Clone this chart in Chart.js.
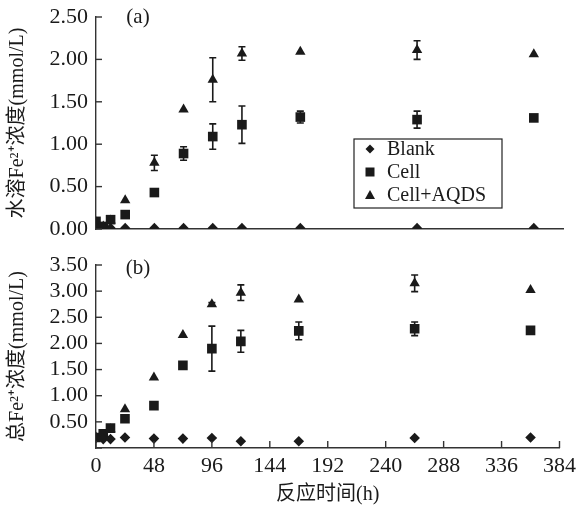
<!DOCTYPE html>
<html><head><meta charset="utf-8">
<script src="https://cdn.jsdelivr.net/npm/chart.js@4.4.1/dist/chart.umd.min.js"></script>
<style>
body{margin:0;background:#fff;width:581px;height:507px;overflow:hidden;position:relative}
.box{position:absolute;left:0;width:581px}
#b1{top:0;height:250px}
#b2{top:250px;height:257px}
</style></head><body>
<div class="box" id="b1"><canvas id="c1"></canvas></div>
<div class="box" id="b2"><canvas id="c2"></canvas></div>
<script>
// ---- data ----
const hours = [0, 6, 12, 24, 48, 72, 96, 120, 168, 264, 360];
const seriesNames = ['Blank', 'Cell', 'Cell+AQDS'];
const xTickLabels = [0, 48, 96, 144, 192, 240, 288, 336, 384];
// (a) dissolved Fe2+
const solBlank = [0.01, 0.01, 0.01, 0.01, 0.01, 0.01, 0.01, 0.01, 0.01, 0.01, 0.01];
const solCell  = [0.09, 0.03, 0.11, 0.17, 0.43, 0.89, 1.09, 1.23, 1.32, 1.29, 1.31];
const solAqds  = [0.08, 0.03, 0.10, 0.34, 0.78, 1.41, 1.76, 2.07, 2.09, 2.11, 2.06];
const solCellErr = [0, 0, 0, 0, 0, 0.08, 0.15, 0.22, 0.07, 0.10, 0];
const solAqdsErr = [0, 0, 0, 0, 0.09, 0, 0.26, 0.08, 0, 0.11, 0];
// (b) total Fe2+
const totBlank = [0.19, 0.17, 0.17, 0.20, 0.18, 0.18, 0.19, 0.13, 0.13, 0.19, 0.20];
const totCell  = [0.20, 0.27, 0.38, 0.56, 0.81, 1.58, 1.90, 2.04, 2.24, 2.28, 2.25];
const totAqds  = [0.20, 0.25, 0.36, 0.74, 1.35, 2.16, 2.75, 2.97, 2.84, 3.15, 3.02];
const totCellErr = [0, 0, 0, 0, 0, 0, 0.43, 0.21, 0.17, 0.13, 0];
const totAqdsErr = [0, 0, 0, 0, 0, 0, 0.03, 0.15, 0, 0.16, 0];

const INK = '#1a1a1a';
const SERIF = "'Liberation Serif','Times New Roman','Noto Sans CJK SC',serif";
const pts = (ys) => hours.map((h, i) => ({x: h, y: ys[i]}));
const styles = [
  {pointStyle: 'rectRot', pointRadius: 5.3},
  {pointStyle: 'rect', pointRadius: 6.8},
  {pointStyle: 'triangle', pointRadius: 6.0}
];
function makeDatasets(vals, errs) {
  return vals.map((v, k) => ({
    label: seriesNames[k],
    data: pts(v),
    errors: errs[k],
    showLine: false,
    pointStyle: styles[k].pointStyle,
    pointRadius: styles[k].pointRadius,
    pointBackgroundColor: INK,
    pointBorderColor: INK,
    pointBorderWidth: 0
  }));
}

const errorBars = {
  id: 'errorBars',
  afterDatasetsDraw(chart) {
    const ctx = chart.ctx, ys = chart.scales.y;
    ctx.save();
    ctx.strokeStyle = INK; ctx.lineWidth = 1.6;
    chart.data.datasets.forEach((ds, di) => {
      if (!ds.errors) return;
      const meta = chart.getDatasetMeta(di);
      ds.data.forEach((p, i) => {
        const e = ds.errors[i];
        if (!e) return;
        const px = meta.data[i].x;
        const t = ys.getPixelForValue(p.y + e), b = ys.getPixelForValue(p.y - e);
        ctx.beginPath();
        ctx.moveTo(px, t); ctx.lineTo(px, b);
        ctx.moveTo(px - 3.5, t); ctx.lineTo(px + 3.5, t);
        ctx.moveTo(px - 3.5, b); ctx.lineTo(px + 3.5, b);
        ctx.stroke();
      });
    });
    ctx.restore();
  }
};

const decor = {
  id: 'decor',
  afterDraw(chart, args, opts) {
    const ctx = chart.ctx, a = chart.chartArea, ys = chart.scales.y, xs = chart.scales.x;
    ctx.save();
    ctx.strokeStyle = '#333'; ctx.lineWidth = 1.4;
    ys.ticks.forEach(t => {
      const p = ys.getPixelForValue(t.value);
      ctx.beginPath(); ctx.moveTo(a.left, p); ctx.lineTo(a.left + 6, p); ctx.stroke();
    });
    if (opts.xTicks) {
      xs.ticks.forEach(t => {
        const p = xs.getPixelForValue(t.value);
        ctx.beginPath(); ctx.moveTo(p, a.bottom); ctx.lineTo(p, a.bottom - 7); ctx.stroke();
      });
    }
    ctx.fillStyle = INK;
    ctx.font = "21px " + SERIF;
    ctx.textAlign = 'center'; ctx.textBaseline = 'middle';
    ctx.fillText(opts.panel, a.left + 42, a.top + opts.panelDy);
    if (opts.legend) {
      const L = 354, T = 139, W = 148, H = 69;
      ctx.lineWidth = 1.2; ctx.strokeStyle = '#222';
      ctx.strokeRect(L, T, W, H);
      ctx.textAlign = 'left';
      ctx.font = "20px " + SERIF;
      const rows = [149, 172, 195];
      chart.data.datasets.forEach((ds, k) => {
        const cx = 370, cy = rows[k];
        ctx.beginPath();
        if (k === 0) { ctx.moveTo(cx - 4.5, cy); ctx.lineTo(cx, cy - 4.5); ctx.lineTo(cx + 4.5, cy); ctx.lineTo(cx, cy + 4.5); }
        else if (k === 1) { ctx.rect(cx - 4.5, cy - 4.5, 9, 9); }
        else { ctx.moveTo(cx, cy - 5); ctx.lineTo(cx + 5, cy + 4); ctx.lineTo(cx - 5, cy + 4); }
        ctx.closePath(); ctx.fill();
        ctx.fillText(ds.label, 387, cy + 1);
      });
    }
    ctx.restore();
  }
};

function makeChart(id, vals, errs, yMax, yTitle, bottom) {
  return new Chart(document.getElementById(id), {
    type: 'scatter',
    data: {datasets: makeDatasets(vals, errs)},
    plugins: [errorBars, decor],
    options: {
      responsive: true, maintainAspectRatio: false, animation: false,
      layout: {padding: bottom ? {top: 15, right: 18, left: 0, bottom: 0} : {top: 17, right: 18, left: 0, bottom: 21}},
      plugins: {
        legend: {display: false}, tooltip: {enabled: false},
        decor: {xTicks: bottom, legend: !bottom, panel: bottom ? '(b)' : '(a)', panelDy: bottom ? 3 : 0}
      },
      scales: {
        x: {
          type: 'linear', min: 0, max: 384,
          afterBuildTicks: s => { s.ticks = xTickLabels.map(v => ({value: v})); },
          grid: {display: false, drawTicks: false},
          border: {color: '#333', width: 1.4},
          ticks: {display: bottom, padding: 5, color: INK, font: {family: SERIF, size: 22}, maxRotation: 0, autoSkip: false},
          title: {display: bottom, text: '反应时间(h)', color: INK, font: {family: SERIF, size: 20}, padding: {top: 0, bottom: 0}},
          afterFit: s => { s.height = bottom ? 59 : 0; }
        },
        y: {
          min: 0, max: yMax,
          grid: {display: false, drawTicks: false},
          border: {color: '#333', width: 1.4},
          ticks: {stepSize: 0.5, padding: 8, autoSkip: false, color: INK, font: {family: SERIF, size: 22},
            callback: v => (bottom && v === 0) ? '' : Number(v).toFixed(2)},
          title: {display: true, text: yTitle, color: INK, font: {family: SERIF, size: 20}, padding: {top: 6, bottom: 0}},
          afterFit: s => { s.width = 96; s.paddingTop = 0; s.paddingBottom = 0; }
        }
      }
    }
  });
}

makeChart('c1', [solBlank, solCell, solAqds], [null, solCellErr, solAqdsErr], 2.5, '水溶Fe²⁺浓度(mmol/L)', false);
makeChart('c2', [totBlank, totCell, totAqds], [null, totCellErr, totAqdsErr], 3.5, '总Fe²⁺浓度(mmol/L)', true);
</script>
</body></html>
